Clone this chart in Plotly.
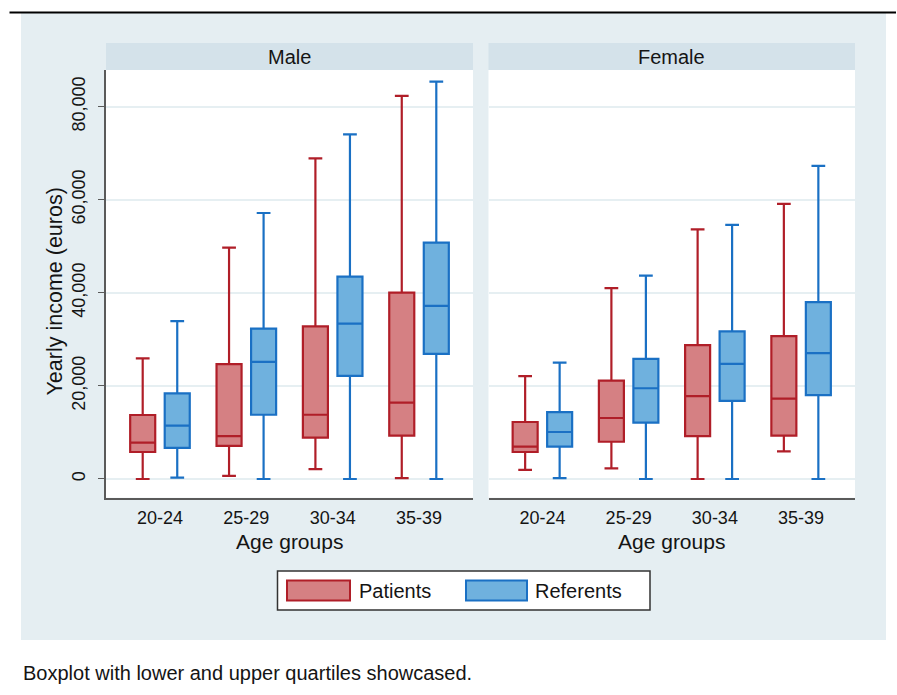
import plotly.graph_objects as go

# ---------------- data ----------------
age_groups = ["20-24", "25-29", "30-34", "35-39"]
panels = ["Male", "Female"]
series_names = ["Patients", "Referents"]

# Male – Patients
male_pat_low = [0, 650, 2100, 200]
male_pat_q1 = [5800, 7100, 8900, 9300]
male_pat_med = [7800, 9200, 13800, 16400]
male_pat_q3 = [13750, 24700, 32800, 40050]
male_pat_high = [25900, 49700, 68900, 82300]

# Male – Referents
male_ref_low = [300, 0, 0, 0]
male_ref_q1 = [6700, 13800, 22150, 26900]
male_ref_med = [11450, 25150, 33400, 37200]
male_ref_q3 = [18400, 32300, 43500, 50800]
male_ref_high = [33900, 57150, 74050, 85400]

# Female – Patients
fem_pat_low = [1950, 2300, 0, 5950]
fem_pat_q1 = [5800, 8000, 9200, 9300]
fem_pat_med = [6950, 13100, 17800, 17250]
fem_pat_q3 = [12250, 21150, 28750, 30700]
fem_pat_high = [22100, 41000, 53650, 59100]

# Female – Referents
fem_ref_low = [200, 0, 0, 0]
fem_ref_q1 = [6950, 12100, 16800, 18000]
fem_ref_med = [10100, 19500, 24750, 27050]
fem_ref_q3 = [14350, 25800, 31700, 38000]
fem_ref_high = [25000, 43700, 54600, 67300]

y_ticks = [0, 20000, 40000, 60000, 80000]

caption = "Boxplot with lower and upper quartiles showcased."
y_title = "Yearly income (euros)"
x_title = "Age groups"

# ---------------- styling ----------------
W, H = 897, 695
FONT = "Liberation Sans, Arial, sans-serif"
TXT = "#141414"
pat_fill, pat_line = "#d58083", "#b01e28"
ref_fill, ref_line = "#6fb1de", "#1a70c4"
outer_bg = "#e5eef2"
strip_bg = "#d4e2ea"
grid_c = "#e6eff2"
axis_c = "#5a5a5a"


def X(px):
    return px / W


def Y(py):
    return 1 - py / H


male_dom = [X(106), X(473)]
fem_dom = [X(488.5), X(855)]
y_dom = [Y(497.7), Y(70)]

fig = go.Figure()


def add_box(name, low, q1, med, q3, high, fill, line, xa, ya, offsetgroup):
    fig.add_trace(go.Box(
        name=name, x=age_groups, q1=q1, median=med, q3=q3,
        lowerfence=low, upperfence=high,
        fillcolor=fill, line=dict(color=line, width=2.2),
        whiskerwidth=0.55, boxpoints=False, showlegend=False,
        xaxis=xa, yaxis=ya, offsetgroup=offsetgroup, hoverinfo="skip",
    ))


add_box(series_names[0], male_pat_low, male_pat_q1, male_pat_med, male_pat_q3, male_pat_high,
        pat_fill, pat_line, "x", "y", "a")
add_box(series_names[1], male_ref_low, male_ref_q1, male_ref_med, male_ref_q3, male_ref_high,
        ref_fill, ref_line, "x", "y", "b")
add_box(series_names[0], fem_pat_low, fem_pat_q1, fem_pat_med, fem_pat_q3, fem_pat_high,
        pat_fill, pat_line, "x2", "y2", "a")
add_box(series_names[1], fem_ref_low, fem_ref_q1, fem_ref_med, fem_ref_q3, fem_ref_high,
        ref_fill, ref_line, "x2", "y2", "b")

xcommon = dict(type="category", categoryorder="array", categoryarray=age_groups,
               range=[-0.625, 3.625], showline=True, linecolor=axis_c, linewidth=1.5,
               ticks="", showgrid=False, zeroline=False,
               tickfont=dict(family=FONT, size=18, color=TXT), ticklabelstandoff=3,
               fixedrange=True)
ycommon = dict(range=[-4020, 87880], tickvals=y_ticks, tickformat=",",
               showgrid=True, gridcolor=grid_c, gridwidth=1.5, zeroline=False,
               fixedrange=True)

shapes = []
# outer light background
shapes.append(dict(type="rect", xref="paper", yref="paper", x0=X(21), x1=X(886), y0=Y(640), y1=Y(13),
                   fillcolor=outer_bg, line=dict(width=0), layer="below"))
# plot areas (white) and strips
for dom in (male_dom, fem_dom):
    shapes.append(dict(type="rect", xref="paper", yref="paper", x0=dom[0], x1=dom[1],
                       y0=y_dom[0], y1=y_dom[1], fillcolor="white", line=dict(width=0), layer="below"))
    shapes.append(dict(type="rect", xref="paper", yref="paper", x0=dom[0], x1=dom[1],
                       y0=Y(70), y1=Y(43), fillcolor=strip_bg, line=dict(width=0), layer="below"))
# black frame: top edge only (testing whether the right-edge artefact comes from the left edge)
shapes.append(dict(type="rect", xref="paper", yref="paper", x0=X(9.5), x1=X(896), y0=Y(13.5), y1=Y(11.5),
                   fillcolor="black", line=dict(width=0)))
# legend box
shapes.append(dict(type="rect", xref="paper", yref="paper", x0=X(277.5), x1=X(650), y0=Y(610), y1=Y(571),
                   fillcolor="white", line=dict(color="#333", width=1.5)))
legend_items = [(series_names[0], pat_fill, pat_line, 287, 350, 357),
                (series_names[1], ref_fill, ref_line, 466, 527, 533)]
annotations = []
for name, fc, lc, sx0, sx1, tx in legend_items:
    shapes.append(dict(type="rect", xref="paper", yref="paper", x0=X(sx0), x1=X(sx1), y0=Y(600.5), y1=Y(580.5),
                       fillcolor=fc, line=dict(color=lc, width=2)))
    annotations.append(dict(text=name, xref="paper", yref="paper", x=X(tx), y=Y(590.5), xanchor="left",
                            yanchor="middle", showarrow=False, font=dict(family=FONT, size=20, color=TXT)))

# strip titles and x titles
for dom, t in zip((male_dom, fem_dom), panels):
    annotations.append(dict(text=t, xref="paper", yref="paper", x=(dom[0] + dom[1]) / 2, y=Y(56.5),
                            xanchor="center", yanchor="middle", showarrow=False,
                            font=dict(family=FONT, size=20, color=TXT)))
    annotations.append(dict(text=x_title, xref="paper", yref="paper", x=(dom[0] + dom[1]) / 2, y=Y(541),
                            xanchor="center", yanchor="middle", showarrow=False,
                            font=dict(family=FONT, size=21, color=TXT)))
# y title
annotations.append(dict(text=y_title, xref="paper", yref="paper", x=X(55), y=Y(291.5), textangle=-90,
                        xanchor="center", yanchor="middle", showarrow=False,
                        font=dict(family=FONT, size=21.5, color=TXT)))
# caption
annotations.append(dict(text=caption, xref="paper", yref="paper", x=X(21), y=Y(673), xanchor="left",
                        yanchor="middle", showarrow=False, font=dict(family=FONT, size=20, color=TXT)))

fig.update_layout(
    width=W, height=H, margin=dict(l=0, r=0, t=0, b=0),
    paper_bgcolor="white", plot_bgcolor="rgba(0,0,0,0)",
    boxmode="group", boxgap=0.2, boxgroupgap=0.275,
    showlegend=False,
    xaxis=dict(domain=male_dom, anchor="y", **xcommon),
    xaxis2=dict(domain=fem_dom, anchor="y2", **xcommon),
    yaxis=dict(domain=y_dom, anchor="x", showline=True, linecolor=axis_c, linewidth=1.5,
               ticks="outside", ticklen=6, tickcolor=axis_c, tickangle=-90,
               tickfont=dict(family=FONT, size=18, color=TXT), ticklabelstandoff=6, **ycommon),
    yaxis2=dict(domain=y_dom, anchor="x2", showline=False, ticks="", showticklabels=False,
                matches="y", **ycommon),
    shapes=shapes, annotations=annotations,
    font=dict(family=FONT, color=TXT),
)

fig.write_html("out.html", config={"displayModeBar": False},
               post_script="document.body.style.margin='0';document.body.style.overflow='hidden';")
